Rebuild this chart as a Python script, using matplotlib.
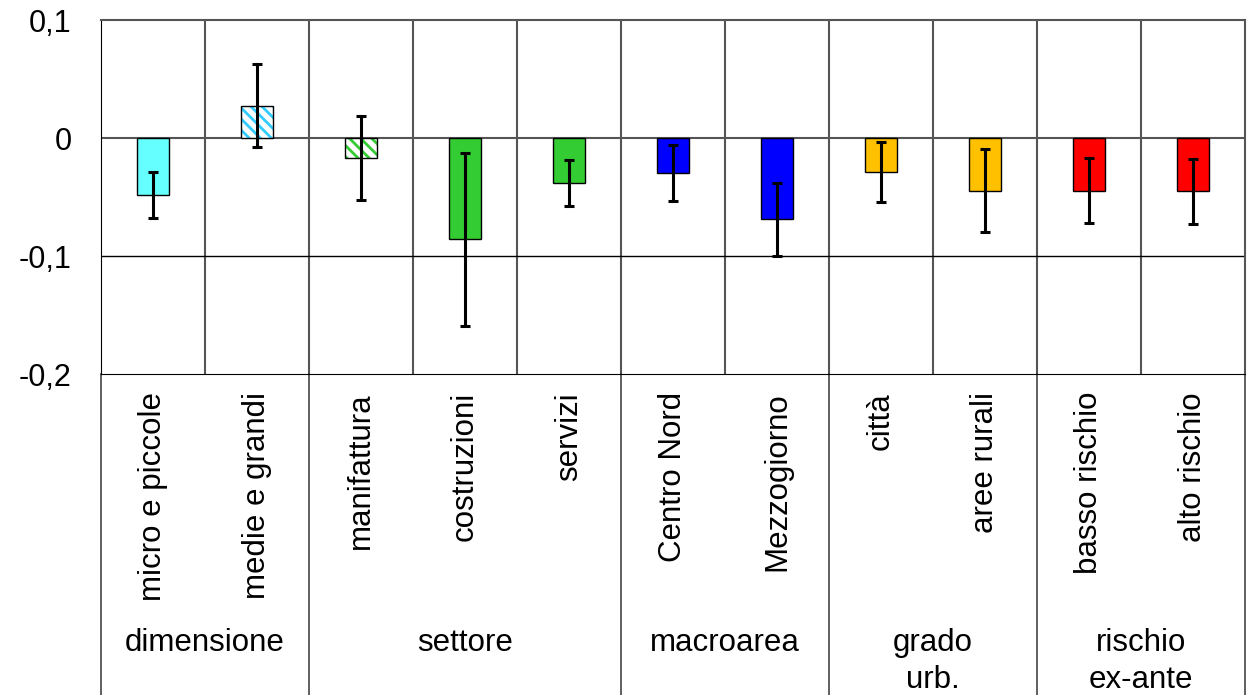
import numpy as np
import matplotlib
matplotlib.use("Agg")
import matplotlib.pyplot as plt

plt.rcParams['font.family'] = ['Liberation Sans', 'DejaVu Sans']
plt.rcParams['hatch.linewidth'] = 2.0

# data
categories = ["micro e piccole", "medie e grandi", "manifattura", "costruzioni",
              "servizi", "Centro Nord", "Mezzogiorno", "città", "aree rurali",
              "basso rischio", "alto rischio"]
values = [-0.048, 0.0275, -0.017, -0.086, -0.038, -0.0295, -0.069,
          -0.029, -0.0445, -0.0445, -0.045]
errors = [0.0195, 0.0353, 0.0353, 0.073, 0.0195, 0.0235, 0.031,
          0.0255, 0.035, 0.0275, 0.0275]
colors = ["#66FFFF", "#33CCFF", "#33CC33", "#33CC33", "#33CC33", "#0000FF",
          "#0000FF", "#FFC000", "#FFC000", "#FF0000", "#FF0000"]
hatched = [False, True, True, False, False, False, False, False, False, False, False]

groups = ["dimensione", "settore", "macroarea", "grado\nurb.", "rischio\nex-ante"]
group_bounds = [0, 2, 5, 7, 9, 11]

yticks = [0.1, 0, -0.1, -0.2]
yticklabels = ["0,1", "0", "-0,1", "-0,2"]

W, H = 1253, 695
fig = plt.figure(figsize=(W / 100, H / 100), dpi=100)
ax_l, ax_r, ax_t, ax_b = 101, 1245, 20, 374
ax = fig.add_axes([ax_l / W, 1 - ax_b / H, (ax_r - ax_l) / W, (ax_b - ax_t) / H])

x = np.arange(len(categories)) + 0.5
bw = 0.31
fs = 22.5

for i in range(len(categories)):
    if hatched[i]:
        ax.bar(x[i], values[i], bw, color="white", edgecolor=colors[i],
               hatch="\\\\\\", linewidth=0, zorder=3)
        ax.bar(x[i], values[i], bw, fill=False, edgecolor="black",
               linewidth=1, zorder=4)
    else:
        ax.bar(x[i], values[i], bw, color=colors[i], edgecolor="black",
               linewidth=1, zorder=3)

ax.errorbar(x, values, yerr=errors, fmt="none", ecolor="black",
            elinewidth=2.2, capsize=3.5, capthick=2.2, zorder=5)

# grid lines inside the plot
for k in range(1, len(categories)):
    ax.axvline(k, color="#555555", linewidth=1.5, zorder=1)
ax.axhline(0, color="#555555", linewidth=1.5, zorder=2)
ax.axhline(-0.1, color="black", linewidth=1, zorder=1)

ax.set_xlim(0, len(categories))
ax.set_ylim(-0.2, 0.1)
ax.set_xticks([])
ax.set_yticks(yticks)
ax.set_yticklabels(yticklabels, fontsize=22)
ax.tick_params(axis="y", length=0, pad=21)
for s in ["left", "bottom"]:
    ax.spines[s].set_color("black")
for s in ["top", "right"]:
    ax.spines[s].set_color("#555555")
    ax.spines[s].set_linewidth(1.5)

trans = ax.get_xaxis_transform()
axh = ax_b - ax_t

# category labels
for i, c in enumerate(categories):
    ax.text(x[i], -18 / axh, c, transform=trans, rotation=90, ha="center",
            va="top", fontsize=fs)

# group separators below the plot
for b in group_bounds:
    ax.plot([b, b], [0, -1.0], transform=trans, color="#444444",
            linewidth=1.2, clip_on=False)

# group labels
for g, a, b in zip(groups, group_bounds[:-1], group_bounds[1:]):
    ax.text((a + b) / 2, -(628 - ax_b) / axh, g, transform=trans,
            ha="center", va="top", fontsize=fs, linespacing=1.3)

fig.savefig("out.png", dpi=100)
